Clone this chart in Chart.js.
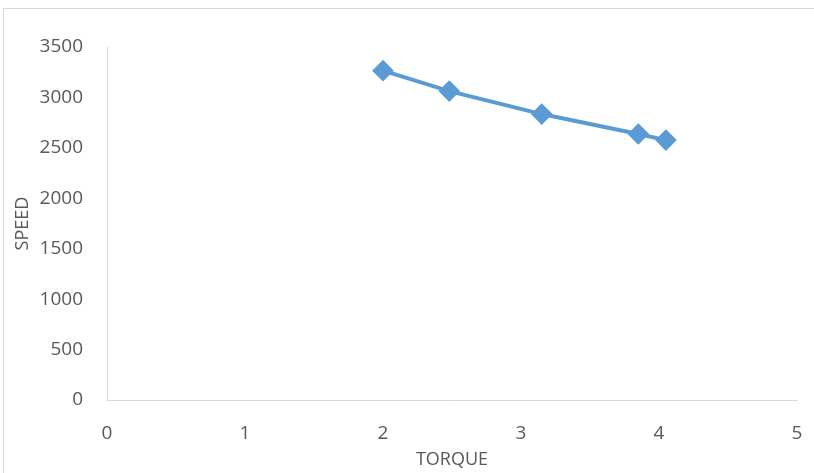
<!DOCTYPE html>
<html><head><meta charset="utf-8">
<script src="https://cdn.jsdelivr.net/npm/chart.js@4.4.1/dist/chart.umd.min.js"></script>
<style>
html,body{margin:0;padding:0;background:#fff;}
#wrap{position:relative;width:814px;height:473px;overflow:hidden;}
#frame{position:absolute;left:3px;top:8px;width:830px;height:490px;border:1px solid #d9d9d9;box-sizing:border-box;}
canvas{position:absolute;left:0;top:0;}
</style></head>
<body><div id="wrap"><div id="frame"></div><canvas id="c" width="814" height="473"></canvas></div>
<script>
const torque = [2.0, 2.48, 3.15, 3.85, 4.05];
const speed = [3265, 3063, 2835, 2637, 2577];
const xTicks = [0, 1, 2, 3, 4, 5];
const yTicks = [0, 500, 1000, 1500, 2000, 2500, 3000, 3500];

const pts = torque.map((t, i) => ({x: t, y: speed[i]}));
const txt = '#595959';
const fam = '"Open Sans", sans-serif';
new Chart(document.getElementById('c'), {
  type: 'scatter',
  data: {datasets: [{
    data: pts, showLine: true, borderColor: '#5B9BD5', backgroundColor: '#5B9BD5',
    borderWidth: 4, pointStyle: 'rectRot', pointRadius: 8, pointHoverRadius: 8, tension: 0
  }]},
  options: {
    responsive: false, animation: false, events: [],
    layout: {padding: {left: 12, top: 47, right: 17, bottom: 2}},
    plugins: {legend: {display: false}, tooltip: {enabled: false}},
    scales: {
      x: {
        type: 'linear', min: 0, max: 5,
        afterBuildTicks: s => { s.ticks = xTicks.map(v => ({value: v})); },
        afterFit: s => { s.height = 71; s.paddingRight = 0; s.paddingLeft = 0; },
        grid: {display: false, drawTicks: false},
        border: {display: true, color: '#d9d9d9', width: 1},
        ticks: {color: txt, font: {family: fam, size: 19}, padding: 22, maxRotation: 0, callback: v => String(v)},
        title: {display: true, text: 'TORQUE', color: txt, font: {family: fam, size: 18}, padding: {top: 0, bottom: 0}}
      },
      y: {
        type: 'linear', min: 0, max: 3500,
        afterBuildTicks: s => { s.ticks = yTicks.map(v => ({value: v})); },
        afterFit: s => { s.width = 95; },
        grid: {display: false, drawTicks: false},
        border: {display: true, color: '#d9d9d9', width: 1},
        ticks: {color: txt, font: {family: fam, size: 19}, padding: 24, callback: v => String(v)},
        title: {display: true, text: 'SPEED', color: txt, font: {family: fam, size: 18}, padding: {top: 0, bottom: 0}}
      }
    }
  }
});
</script></body></html>
